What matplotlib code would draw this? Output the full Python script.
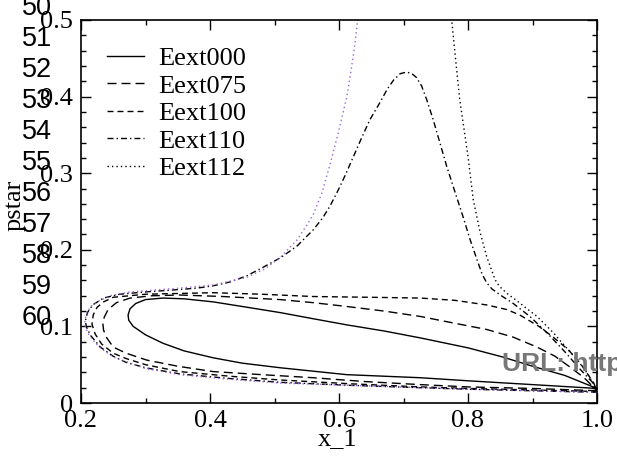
import matplotlib
matplotlib.use("Agg")
import matplotlib.pyplot as plt
from matplotlib.ticker import MultipleLocator, FixedLocator

# ---- data ----
e000_x = [1.0, 0.9, 0.8, 0.726, 0.612, 0.509, 0.45, 0.405, 0.36, 0.327, 0.3, 0.281, 0.274, 0.273,
          0.276, 0.285, 0.3, 0.327, 0.36, 0.405, 0.45, 0.509, 0.56, 0.612, 0.67, 0.726, 0.8, 0.854, 0.9, 0.95, 1.0]
e000_y = [0.019, 0.024, 0.029, 0.033, 0.037, 0.046, 0.052, 0.059, 0.068, 0.078, 0.089, 0.1, 0.108, 0.115,
          0.123, 0.13, 0.135, 0.137, 0.136, 0.132, 0.126, 0.118, 0.110, 0.102, 0.094, 0.085, 0.072, 0.06, 0.048, 0.036, 0.019]

e075_x = [1.0, 0.9, 0.8, 0.726, 0.64, 0.56, 0.48, 0.405, 0.35, 0.302, 0.27, 0.25, 0.24, 0.235, 0.234,
          0.236, 0.242, 0.255, 0.276, 0.31, 0.353, 0.42, 0.509, 0.56, 0.612, 0.67, 0.726, 0.78, 0.829, 0.87,
          0.907, 0.935, 0.958, 0.98, 1.0]
e075_y = [0.016, 0.019, 0.021, 0.024, 0.028, 0.033, 0.037, 0.041, 0.048, 0.056, 0.065, 0.073, 0.085, 0.095, 0.103,
          0.112, 0.122, 0.131, 0.137, 0.140, 0.141, 0.139, 0.135, 0.131, 0.126, 0.12, 0.113, 0.104, 0.096, 0.086,
          0.073, 0.061, 0.047, 0.033, 0.016]

e100_x = [1.0, 0.9, 0.8, 0.726, 0.62, 0.509, 0.43, 0.353, 0.3, 0.27, 0.25, 0.232, 0.222, 0.217,
          0.219, 0.225, 0.235, 0.25, 0.3, 0.405, 0.48, 0.56, 0.65, 0.726, 0.78, 0.829, 0.86, 0.88, 0.91,
          0.932, 0.955, 0.974, 0.995, 1.0]
e100_y = [0.015, 0.017, 0.019, 0.021, 0.025, 0.03, 0.035, 0.041, 0.05, 0.058, 0.065, 0.077, 0.09, 0.103,
          0.115, 0.125, 0.132, 0.138, 0.142, 0.144, 0.142, 0.139, 0.138, 0.137, 0.134, 0.128, 0.122, 0.115, 0.1,
          0.086, 0.07, 0.052, 0.026, 0.015]

e110_x = [1.0, 0.9, 0.8, 0.726, 0.62, 0.509, 0.43, 0.353, 0.3, 0.27, 0.25, 0.23, 0.215, 0.208, 0.207,
          0.21, 0.218, 0.235, 0.26, 0.3, 0.35, 0.38, 0.405, 0.431, 0.457, 0.482, 0.51, 0.535, 0.56, 0.575,
          0.586, 0.60, 0.61, 0.622, 0.635, 0.648, 0.664, 0.675, 0.685, 0.695, 0.705, 0.713, 0.72, 0.728,
          0.736, 0.746, 0.757, 0.767, 0.78, 0.792, 0.803, 0.814, 0.822, 0.829, 0.837, 0.85, 0.87, 0.896,
          0.922, 0.95, 0.975, 0.994, 1.0]
e110_y = [0.014, 0.016, 0.018, 0.020, 0.023, 0.027, 0.032, 0.038, 0.046, 0.053, 0.061, 0.073, 0.088, 0.1, 0.108,
          0.118, 0.128, 0.137, 0.142, 0.145, 0.148, 0.150, 0.153, 0.158, 0.166, 0.177, 0.19, 0.205, 0.226, 0.242,
          0.257, 0.28, 0.298, 0.321, 0.346, 0.37, 0.393, 0.41, 0.422, 0.43, 0.432, 0.43, 0.425, 0.414,
          0.396, 0.37, 0.338, 0.309, 0.275, 0.244, 0.214, 0.187, 0.168, 0.157, 0.149, 0.141, 0.13, 0.113,
          0.092, 0.067, 0.043, 0.026, 0.014]

# Eext112, left part (drawn purple) and right part (drawn black)
e112a_x = [1.0, 0.9, 0.8, 0.726, 0.62, 0.509, 0.43, 0.353, 0.3, 0.25, 0.228, 0.213, 0.207, 0.206,
           0.208, 0.215, 0.225, 0.245, 0.276, 0.353, 0.405, 0.457, 0.485, 0.509, 0.535, 0.55, 0.56, 0.573,
           0.586, 0.598, 0.606, 0.612, 0.618, 0.624, 0.629, 0.632]
e112a_y = [0.014, 0.016, 0.018, 0.02, 0.023, 0.026, 0.031, 0.037, 0.045, 0.06, 0.073, 0.088, 0.098, 0.106,
           0.116, 0.126, 0.132, 0.14, 0.145, 0.15, 0.154, 0.164, 0.175, 0.19, 0.213, 0.232, 0.246, 0.273,
           0.311, 0.35, 0.378, 0.399, 0.43, 0.465, 0.5, 0.52]
e112b_x = [0.774, 0.775, 0.787, 0.8, 0.808, 0.819, 0.829, 0.842, 0.848, 0.854, 0.862, 0.875, 0.89, 0.907,
           0.932, 0.96, 0.98, 0.994, 1.0]
e112b_y = [0.52, 0.497, 0.397, 0.322, 0.266, 0.222, 0.191, 0.161, 0.153, 0.148, 0.142, 0.134, 0.124, 0.113,
           0.092, 0.065, 0.045, 0.026, 0.014]

xticks = [0.2, 0.4, 0.6, 0.8, 1.0]
xtick_labels = ["0.2", "0.4", "0.6", "0.8", "1.0"]
yticks = [0.0, 0.1, 0.2, 0.3, 0.4, 0.5]
ytick_labels = ["0", "0.1", "0.2", "0.3", "0.4", "0.5"]
side_labels = [str(n) for n in range(50, 61)]

SERIF = "Liberation Serif"
SANS = "Liberation Sans"
FS = 19

fig = plt.figure(figsize=(6.17, 4.59), dpi=100)
ax = fig.add_axes([81 / 617, 1 - 403 / 459, 516 / 617, 383 / 459])

lw = 1.0
ax.plot(e000_x, e000_y, color="black", lw=lw, linestyle="-", label="Eext000")
ax.plot(e075_x, e075_y, color="black", lw=lw, linestyle=(0, (6.5, 3.6)), label="Eext075")
ax.plot(e100_x, e100_y, color="black", lw=lw, linestyle=(0, (4.3, 2.9)), label="Eext100")
ax.plot(e110_x, e110_y, color="black", lw=lw, linestyle=(0, (4.3, 2.2, 1.0, 2.2)), label="Eext110")
ax.plot(e112b_x, e112b_y, color="black", lw=lw, linestyle=(0, (1.0, 2.2)), label="Eext112")
ax.plot(e112a_x, e112a_y, color="#9966dd", lw=lw, linestyle=(0, (1.0, 2.2)))

ax.set_xlim(0.2, 1.0)
ax.set_ylim(0.0, 0.5)
ax.xaxis.set_major_locator(FixedLocator(xticks))
ax.set_xticklabels(xtick_labels)
ax.yaxis.set_major_locator(FixedLocator(yticks))
ax.set_yticklabels(ytick_labels)
ax.xaxis.set_minor_locator(MultipleLocator(0.1))
ax.yaxis.set_minor_locator(MultipleLocator(0.02))
ax.tick_params(which="both", direction="in", top=True, right=True, width=1.0, color="black")
ax.tick_params(which="major", length=7)
ax.tick_params(which="minor", length=3.5)
ax.tick_params(axis="x", which="major", pad=5)
ax.tick_params(axis="y", which="major", pad=6)
for lab in ax.get_xticklabels() + ax.get_yticklabels():
    lab.set_fontfamily(SERIF)
    lab.set_fontsize(FS)
for s in ax.spines.values():
    s.set_linewidth(1.2)

fig.text(338 / 617, 1 - 439 / 459, "x_1", family=SERIF, fontsize=FS, ha="center", va="center")
fig.text(15 / 617, 1 - 205 / 459, "pstar", family=SERIF, fontsize=FS, ha="center", va="center", rotation=90)

leg = ax.legend(loc="upper left", bbox_to_anchor=(0.05, 0.93), frameon=False,
                prop={"family": SERIF, "size": FS}, handlelength=1.4, handletextpad=0.55,
                labelspacing=0.15, borderaxespad=0.0, borderpad=0.0)

for i, t in enumerate(side_labels):
    fig.text(22 / 617, 1 - (8 + i * 31) / 459, t, family=SANS, fontsize=19.5, ha="left", va="center")

fig.text(502 / 617, 1 - 364 / 459, "URL: http://", family=SANS, fontsize=19, fontweight="bold",
         color="#777777", ha="left", va="center")

fig.savefig("out.png", dpi=100)
